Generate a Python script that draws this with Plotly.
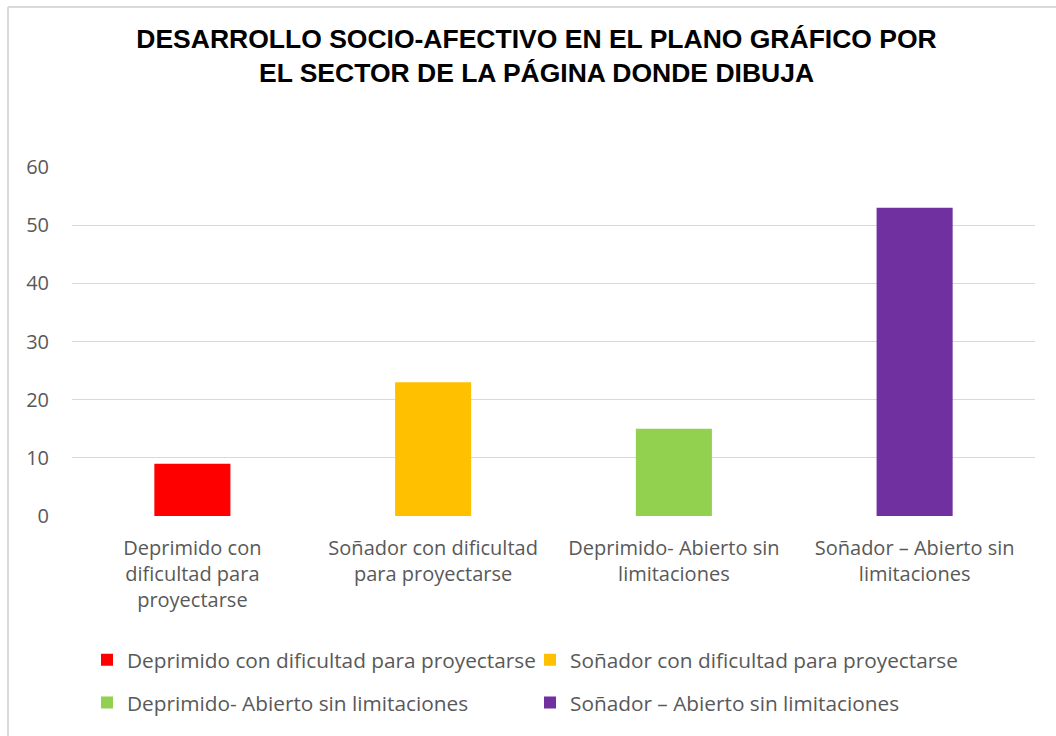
import plotly.graph_objects as go

categories = [
    "Deprimido con dificultad para proyectarse",
    "Soñador con dificultad para proyectarse",
    "Deprimido- Abierto sin limitaciones",
    "Soñador – Abierto sin limitaciones",
]
tick_labels = [
    "Deprimido con<br>dificultad para<br>proyectarse",
    "Soñador con dificultad<br>para proyectarse",
    "Deprimido- Abierto sin<br>limitaciones",
    "Soñador – Abierto sin<br>limitaciones",
]
values = [9, 23, 15, 53]
colors = ["#FF0000", "#FFC000", "#92D050", "#7030A0"]
y_ticks = [0, 10, 20, 30, 40, 50, 60]

W, H = 1056, 736
L, R, T, B = 72, 21, 167, 218
pw, ph = W - L - R, H - T - B


def px2x(p):
    return (p - L) / pw


def py2y(p):
    return (H - B - p) / ph


fig = go.Figure()
for i in range(len(categories)):
    fig.add_trace(go.Bar(
        x=[tick_labels[i]], y=[values[i]], name=categories[i],
        marker=dict(color=colors[i], line=dict(width=0)),
        width=0.316,
        legend="legend" if i < 2 else "legend2",
    ))

FONT = "Open Sans"
GRAY = "#595959"
legend_common = dict(
    orientation="h", xanchor="left", yanchor="middle",
    font=dict(family=FONT, size=20.8, color=GRAY),
    entrywidth=398, entrywidthmode="pixels",
    bgcolor="rgba(0,0,0,0)", itemclick=False,
)

fig.update_layout(
    width=W, height=H,
    margin=dict(l=L, r=R, t=T, b=B),
    paper_bgcolor="white", plot_bgcolor="white",
    barmode="overlay",
    title=dict(
        text="DESARROLLO SOCIO-AFECTIVO EN EL PLANO GRÁFICO POR<br>EL SECTOR DE LA PÁGINA DONDE DIBUJA",
        x=536.5 / W, xanchor="center", xref="container",
        y=1 - 48 / H, yanchor="top", yref="container",
        font=dict(family="Liberation Sans", size=26.5, color="black", weight="bold"),
    ),
    xaxis=dict(
        categoryorder="array", categoryarray=tick_labels,
        ticks="outside", ticklen=14, tickcolor="rgba(0,0,0,0)",
        tickfont=dict(family=FONT, size=20, color=GRAY),
        showline=False, showgrid=False, fixedrange=True,
    ),
    yaxis=dict(
        range=[0, 60], tickvals=y_ticks,
        ticks="outside", ticklen=18, tickcolor="rgba(0,0,0,0)",
        tickfont=dict(family=FONT, size=20, color=GRAY),
        showgrid=True, gridcolor="#d9d9d9", gridwidth=1.3,
        zeroline=False, showline=False, fixedrange=True,
    ),
    legend=dict(x=px2x(87), y=py2y(663), **legend_common),
    legend2=dict(x=px2x(87), y=py2y(706), **legend_common),
    showlegend=True,
    shapes=[
        dict(type="line", xref="paper", yref="paper",
             x0=px2x(8), x1=px2x(W + 5), y0=py2y(6), y1=py2y(6),
             line=dict(color="#d9d9d9", width=2)),
        dict(type="line", xref="paper", yref="paper",
             x0=px2x(8), x1=px2x(8), y0=py2y(6), y1=py2y(H + 5),
             line=dict(color="#d9d9d9", width=2)),
    ],
)

fig.write_html(
    "out.html",
    config={"displayModeBar": False},
    post_script="document.body.style.margin='0px';",
)
